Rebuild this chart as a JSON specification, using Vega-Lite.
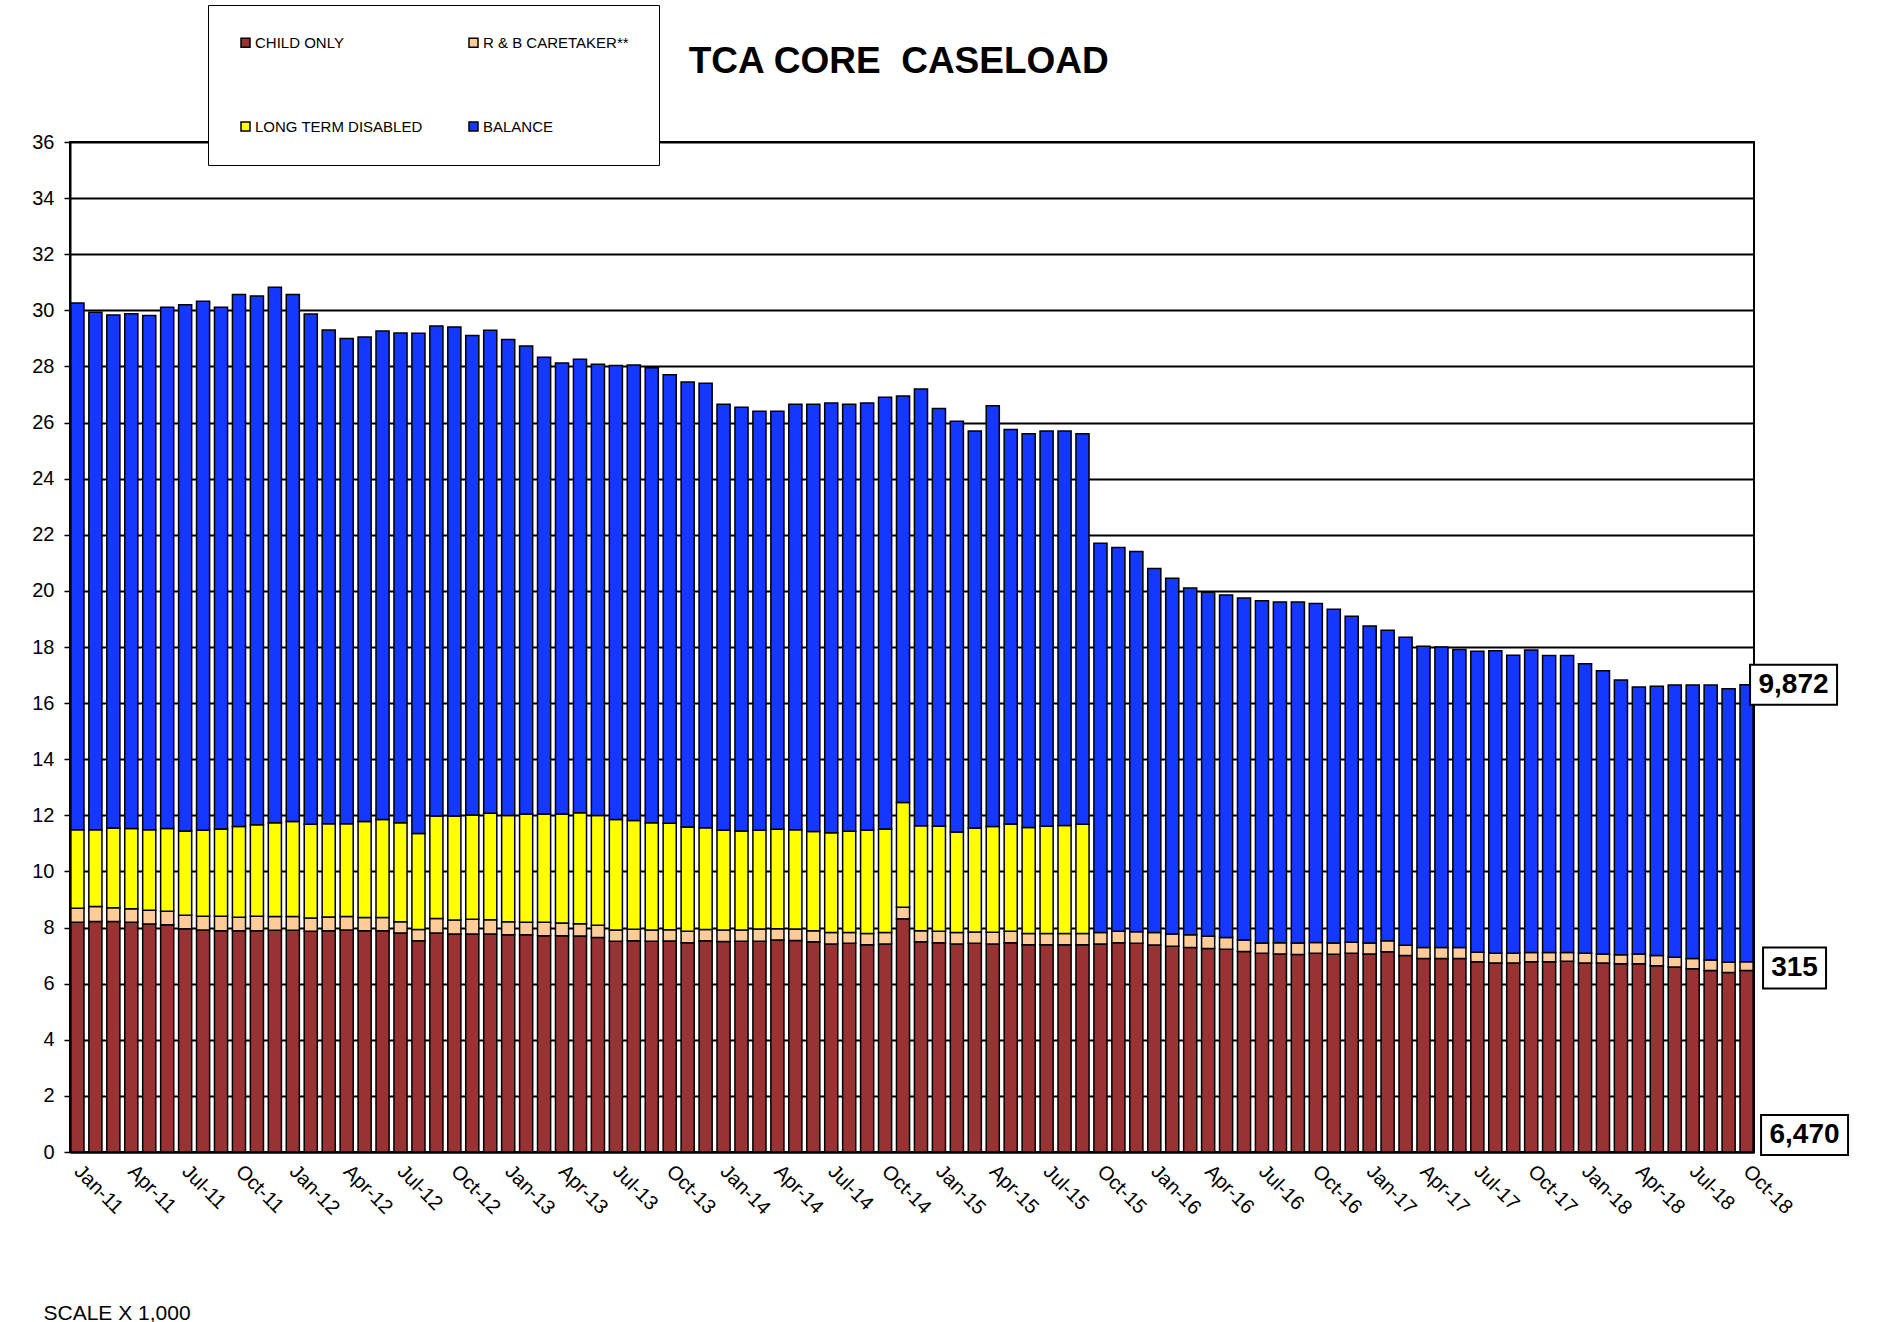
{
  "$schema": "https://vega.github.io/schema/vega-lite/v6.json",
  "width": 1684,
  "height": 1010,
  "autosize": {"type": "none"},
  "padding": {"left": 70, "top": 142, "right": 146, "bottom": 170},
  "background": "white",
  "title": {
    "text": "TCA CORE \u00a0CASELOAD",
    "anchor": "start",
    "dx": 657,
    "dy": 170,
    "fontSize": 37,
    "fontWeight": "bold",
    "font": "Liberation Sans",
    "color": "black",
    "baseline": "alphabetic",
    "offset": 65
  },
  "datasets": {
    "main": [
      {"m":"Jan-11","c":8.19,"r":0.50,"l":2.80,"b":18.77},
      {"m":"Feb-11","c":8.22,"r":0.53,"l":2.74,"b":18.44},
      {"m":"Mar-11","c":8.22,"r":0.49,"l":2.84,"b":18.28},
      {"m":"Apr-11","c":8.19,"r":0.48,"l":2.86,"b":18.35},
      {"m":"May-11","c":8.13,"r":0.49,"l":2.87,"b":18.33},
      {"m":"Jun-11","c":8.10,"r":0.48,"l":2.95,"b":18.58},
      {"m":"Jul-11","c":7.96,"r":0.48,"l":3.00,"b":18.76},
      {"m":"Aug-11","c":7.91,"r":0.49,"l":3.07,"b":18.85},
      {"m":"Sep-11","c":7.89,"r":0.51,"l":3.11,"b":18.60},
      {"m":"Oct-11","c":7.89,"r":0.48,"l":3.23,"b":18.96},
      {"m":"Nov-11","c":7.89,"r":0.51,"l":3.26,"b":18.85},
      {"m":"Dec-11","c":7.90,"r":0.49,"l":3.35,"b":19.08},
      {"m":"Jan-12","c":7.90,"r":0.49,"l":3.39,"b":18.78},
      {"m":"Feb-12","c":7.87,"r":0.47,"l":3.34,"b":18.19},
      {"m":"Mar-12","c":7.89,"r":0.49,"l":3.32,"b":17.60},
      {"m":"Apr-12","c":7.91,"r":0.48,"l":3.31,"b":17.30},
      {"m":"May-12","c":7.89,"r":0.47,"l":3.42,"b":17.27},
      {"m":"Jun-12","c":7.89,"r":0.47,"l":3.49,"b":17.41},
      {"m":"Jul-12","c":7.81,"r":0.40,"l":3.53,"b":17.45},
      {"m":"Aug-12","c":7.53,"r":0.40,"l":3.42,"b":17.83},
      {"m":"Sep-12","c":7.81,"r":0.51,"l":3.66,"b":17.46},
      {"m":"Oct-12","c":7.77,"r":0.50,"l":3.71,"b":17.43},
      {"m":"Nov-12","c":7.77,"r":0.53,"l":3.71,"b":17.09},
      {"m":"Dec-12","c":7.77,"r":0.51,"l":3.79,"b":17.22},
      {"m":"Jan-13","c":7.74,"r":0.47,"l":3.78,"b":16.97},
      {"m":"Feb-13","c":7.74,"r":0.45,"l":3.86,"b":16.68},
      {"m":"Mar-13","c":7.71,"r":0.48,"l":3.86,"b":16.28},
      {"m":"Apr-13","c":7.71,"r":0.45,"l":3.89,"b":16.07},
      {"m":"May-13","c":7.70,"r":0.44,"l":3.95,"b":16.17},
      {"m":"Jun-13","c":7.65,"r":0.43,"l":3.91,"b":16.09},
      {"m":"Jul-13","c":7.51,"r":0.40,"l":3.94,"b":16.18},
      {"m":"Aug-13","c":7.53,"r":0.41,"l":3.88,"b":16.23},
      {"m":"Sep-13","c":7.51,"r":0.40,"l":3.83,"b":16.21},
      {"m":"Oct-13","c":7.52,"r":0.40,"l":3.80,"b":15.98},
      {"m":"Nov-13","c":7.46,"r":0.41,"l":3.71,"b":15.87},
      {"m":"Dec-13","c":7.53,"r":0.40,"l":3.63,"b":15.84},
      {"m":"Jan-14","c":7.50,"r":0.41,"l":3.56,"b":15.18},
      {"m":"Feb-14","c":7.51,"r":0.40,"l":3.53,"b":15.11},
      {"m":"Mar-14","c":7.51,"r":0.44,"l":3.52,"b":14.93},
      {"m":"Apr-14","c":7.56,"r":0.40,"l":3.54,"b":14.90},
      {"m":"May-14","c":7.54,"r":0.41,"l":3.54,"b":15.16},
      {"m":"Jun-14","c":7.49,"r":0.40,"l":3.53,"b":15.23},
      {"m":"Jul-14","c":7.41,"r":0.41,"l":3.56,"b":15.32},
      {"m":"Aug-14","c":7.44,"r":0.38,"l":3.61,"b":15.22},
      {"m":"Sep-14","c":7.39,"r":0.40,"l":3.68,"b":15.23},
      {"m":"Oct-14","c":7.41,"r":0.41,"l":3.69,"b":15.39},
      {"m":"Nov-14","c":8.31,"r":0.41,"l":3.74,"b":14.49},
      {"m":"Dec-14","c":7.49,"r":0.40,"l":3.74,"b":15.57},
      {"m":"Jan-15","c":7.46,"r":0.41,"l":3.74,"b":14.89},
      {"m":"Feb-15","c":7.41,"r":0.41,"l":3.59,"b":14.64},
      {"m":"Mar-15","c":7.44,"r":0.40,"l":3.71,"b":14.15},
      {"m":"Apr-15","c":7.41,"r":0.42,"l":3.77,"b":15.00},
      {"m":"May-15","c":7.46,"r":0.41,"l":3.82,"b":14.06},
      {"m":"Jun-15","c":7.39,"r":0.40,"l":3.78,"b":14.03},
      {"m":"Jul-15","c":7.39,"r":0.40,"l":3.82,"b":14.09},
      {"m":"Aug-15","c":7.39,"r":0.40,"l":3.85,"b":14.06},
      {"m":"Sep-15","c":7.39,"r":0.40,"l":3.89,"b":13.92},
      {"m":"Oct-15","c":7.41,"r":0.41,"b":13.88},
      {"m":"Nov-15","c":7.46,"r":0.41,"b":13.68},
      {"m":"Dec-15","c":7.44,"r":0.41,"b":13.55},
      {"m":"Jan-16","c":7.38,"r":0.44,"b":12.98},
      {"m":"Feb-16","c":7.33,"r":0.44,"b":12.68},
      {"m":"Mar-16","c":7.29,"r":0.45,"b":12.36},
      {"m":"Apr-16","c":7.25,"r":0.44,"b":12.26},
      {"m":"May-16","c":7.23,"r":0.42,"b":12.20},
      {"m":"Jun-16","c":7.15,"r":0.41,"b":12.19},
      {"m":"Jul-16","c":7.08,"r":0.37,"b":12.20},
      {"m":"Aug-16","c":7.06,"r":0.40,"b":12.14},
      {"m":"Sep-16","c":7.04,"r":0.41,"b":12.15},
      {"m":"Oct-16","c":7.08,"r":0.39,"b":12.08},
      {"m":"Nov-16","c":7.05,"r":0.40,"b":11.90},
      {"m":"Dec-16","c":7.08,"r":0.40,"b":11.62},
      {"m":"Jan-17","c":7.06,"r":0.39,"b":11.30},
      {"m":"Feb-17","c":7.14,"r":0.39,"b":11.07},
      {"m":"Mar-17","c":7.00,"r":0.37,"b":10.98},
      {"m":"Apr-17","c":6.90,"r":0.39,"b":10.74},
      {"m":"May-17","c":6.90,"r":0.39,"b":10.71},
      {"m":"Jun-17","c":6.90,"r":0.39,"b":10.62},
      {"m":"Jul-17","c":6.78,"r":0.34,"b":10.73},
      {"m":"Aug-17","c":6.74,"r":0.34,"b":10.79},
      {"m":"Sep-17","c":6.74,"r":0.34,"b":10.63},
      {"m":"Oct-17","c":6.78,"r":0.33,"b":10.78},
      {"m":"Nov-17","c":6.78,"r":0.33,"b":10.59},
      {"m":"Dec-17","c":6.80,"r":0.31,"b":10.59},
      {"m":"Jan-18","c":6.74,"r":0.34,"b":10.32},
      {"m":"Feb-18","c":6.74,"r":0.32,"b":10.09},
      {"m":"Mar-18","c":6.71,"r":0.32,"b":9.79},
      {"m":"Apr-18","c":6.71,"r":0.35,"b":9.51},
      {"m":"May-18","c":6.64,"r":0.36,"b":9.60},
      {"m":"Jun-18","c":6.59,"r":0.35,"b":9.71},
      {"m":"Jul-18","c":6.53,"r":0.37,"b":9.75},
      {"m":"Aug-18","c":6.47,"r":0.37,"b":9.81},
      {"m":"Sep-18","c":6.40,"r":0.36,"b":9.75},
      {"m":"Oct-18","c":6.470,"r":0.315,"b":9.872}
    ],
    "labels": [
      {"m":"Oct-18","lbl":"9,872","v":16.657},
      {"m":"Oct-18","lbl":"315","v":6.6275},
      {"m":"Oct-18","lbl":"6,470","v":0}
    ]
  },
  "config": {
    "view": {"stroke": "black", "strokeWidth": 2},
    "font": "Liberation Sans",
    "axis": {"labelFont": "Liberation Sans", "titleFont": "Liberation Sans", "labelColor": "black", "titleColor": "black"},
    "legend": {"labelFont": "Liberation Sans"}
  },
  "layer": [
    {
      "data": {"name": "main"},
      "transform": [
        {"fold": ["c", "r", "l", "b"], "as": ["k", "v"]},
        {"filter": "isValid(datum.v) && datum.v > 0"},
        {"calculate": "indexof(['c','r','l','b'], datum.k)", "as": "o"}
      ],
      "mark": {"type": "bar", "stroke": "black", "strokeWidth": 1.5, "strokeOpacity": 1},
      "encoding": {
        "x": {
          "field": "m", "type": "nominal", "sort": null,
          "scale": {"paddingInner": 0.27, "paddingOuter": 0.05},
          "axis": {
            "values": ["Jan-11","Apr-11","Jul-11","Oct-11","Jan-12","Apr-12","Jul-12","Oct-12","Jan-13","Apr-13","Jul-13","Oct-13","Jan-14","Apr-14","Jul-14","Oct-14","Jan-15","Apr-15","Jul-15","Oct-15","Jan-16","Apr-16","Jul-16","Oct-16","Jan-17","Apr-17","Jul-17","Oct-17","Jan-18","Apr-18","Jul-18","Oct-18"],
            "ticks": false,
            "grid": false,
            "labelAngle": 45,
            "labelAlign": "left",
            "labelBaseline": "middle",
            "labelPadding": 16,
            "labelFontSize": 20,
            "domainColor": "black",
            "domainWidth": 2,
            "title": "SCALE X 1,000",
            "titleAnchor": "start",
            "titleAlign": "left",
            "titleBaseline": "top",
            "titleX": -27,
            "titleY": 150,
            "titleFontSize": 21,
            "titleFontWeight": "normal"
          }
        },
        "y": {
          "aggregate": "sum", "field": "v", "type": "quantitative", "stack": "zero",
          "scale": {"domain": [0, 36], "nice": false},
          "axis": {
            "values": [0,2,4,6,8,10,12,14,16,18,20,22,24,26,28,30,32,34,36],
            "title": null,
            "grid": true,
            "gridColor": "black",
            "gridWidth": 2,
            "gridOpacity": 1,
            "domainColor": "black",
            "domainWidth": 2,
            "tickColor": "black",
            "tickSize": 6,
            "tickWidth": 1.5,
            "labelFontSize": 20,
            "labelPadding": 10
          }
        },
        "color": {
          "field": "k", "type": "nominal",
          "scale": {"domain": ["c", "r", "l", "b"], "range": ["#993333", "#FFCC99", "#FFFF00", "#1438FF"]},
          "legend": {
            "orient": "none",
            "direction": "horizontal",
            "legendX": 138,
            "legendY": -137,
            "columns": 2,
            "title": null,
            "labelExpr": "{'c':'CHILD ONLY','r':'R & B CARETAKER**','l':'LONG TERM DISABLED','b':'BALANCE'}[datum.label]",
            "labelFontSize": 15,
            "labelLimit": 400,
            "labelColor": "black",
            "labelOffset": 2,
            "symbolType": "square",
            "symbolSize": 81,
            "symbolStrokeColor": "black",
            "symbolStrokeWidth": 1.5,
            "padding": 30,
            "rowPadding": 68,
            "columnPadding": 43,
            "strokeColor": "black",
            "fillColor": "white"
          }
        },
        "order": {"field": "o", "type": "quantitative", "sort": "ascending"}
      }
    },
    {
      "data": {"name": "labels"},
      "transform": [{"filter": "datum.lbl == '9,872'"}],
      "mark": {"type": "point", "shape": "M-1,-0.46H1V0.46H-1Z", "size": 7569, "filled": true, "fill": "white", "stroke": "black", "strokeWidth": 2, "opacity": 1, "xOffset": 47},
      "encoding": {
        "x": {"field": "m", "type": "nominal", "sort": null},
        "y": {"field": "v", "type": "quantitative"}
      }
    },
    {
      "data": {"name": "labels"},
      "transform": [{"filter": "datum.lbl == '6,470'"}],
      "mark": {"type": "point", "shape": "M-1,-0.46H1V0.46H-1Z", "size": 7569, "filled": true, "fill": "white", "stroke": "black", "strokeWidth": 2, "opacity": 1, "xOffset": 58, "yOffset": -17},
      "encoding": {
        "x": {"field": "m", "type": "nominal", "sort": null},
        "y": {"field": "v", "type": "quantitative"}
      }
    },
    {
      "data": {"name": "labels"},
      "transform": [{"filter": "datum.lbl == '315'"}],
      "mark": {"type": "point", "shape": "M-1,-0.65H1V0.65H-1Z", "size": 3969, "filled": true, "fill": "white", "stroke": "black", "strokeWidth": 2, "opacity": 1, "xOffset": 48, "yOffset": 2},
      "encoding": {
        "x": {"field": "m", "type": "nominal", "sort": null},
        "y": {"field": "v", "type": "quantitative"}
      }
    },
    {
      "data": {"name": "labels"},
      "transform": [{"filter": "datum.lbl == '9,872'"}],
      "mark": {"type": "text", "fontSize": 28, "fontWeight": "bold", "font": "Liberation Sans", "color": "black", "align": "center", "baseline": "middle", "xOffset": 47},
      "encoding": {
        "x": {"field": "m", "type": "nominal", "sort": null},
        "y": {"field": "v", "type": "quantitative"},
        "text": {"field": "lbl"}
      }
    },
    {
      "data": {"name": "labels"},
      "transform": [{"filter": "datum.lbl == '315'"}],
      "mark": {"type": "text", "fontSize": 28, "fontWeight": "bold", "font": "Liberation Sans", "color": "black", "align": "center", "baseline": "middle", "xOffset": 48, "yOffset": 2},
      "encoding": {
        "x": {"field": "m", "type": "nominal", "sort": null},
        "y": {"field": "v", "type": "quantitative"},
        "text": {"field": "lbl"}
      }
    },
    {
      "data": {"name": "labels"},
      "transform": [{"filter": "datum.lbl == '6,470'"}],
      "mark": {"type": "text", "fontSize": 28, "fontWeight": "bold", "font": "Liberation Sans", "color": "black", "align": "center", "baseline": "middle", "xOffset": 58, "yOffset": -17},
      "encoding": {
        "x": {"field": "m", "type": "nominal", "sort": null},
        "y": {"field": "v", "type": "quantitative"},
        "text": {"field": "lbl"}
      }
    }
  ]
}
